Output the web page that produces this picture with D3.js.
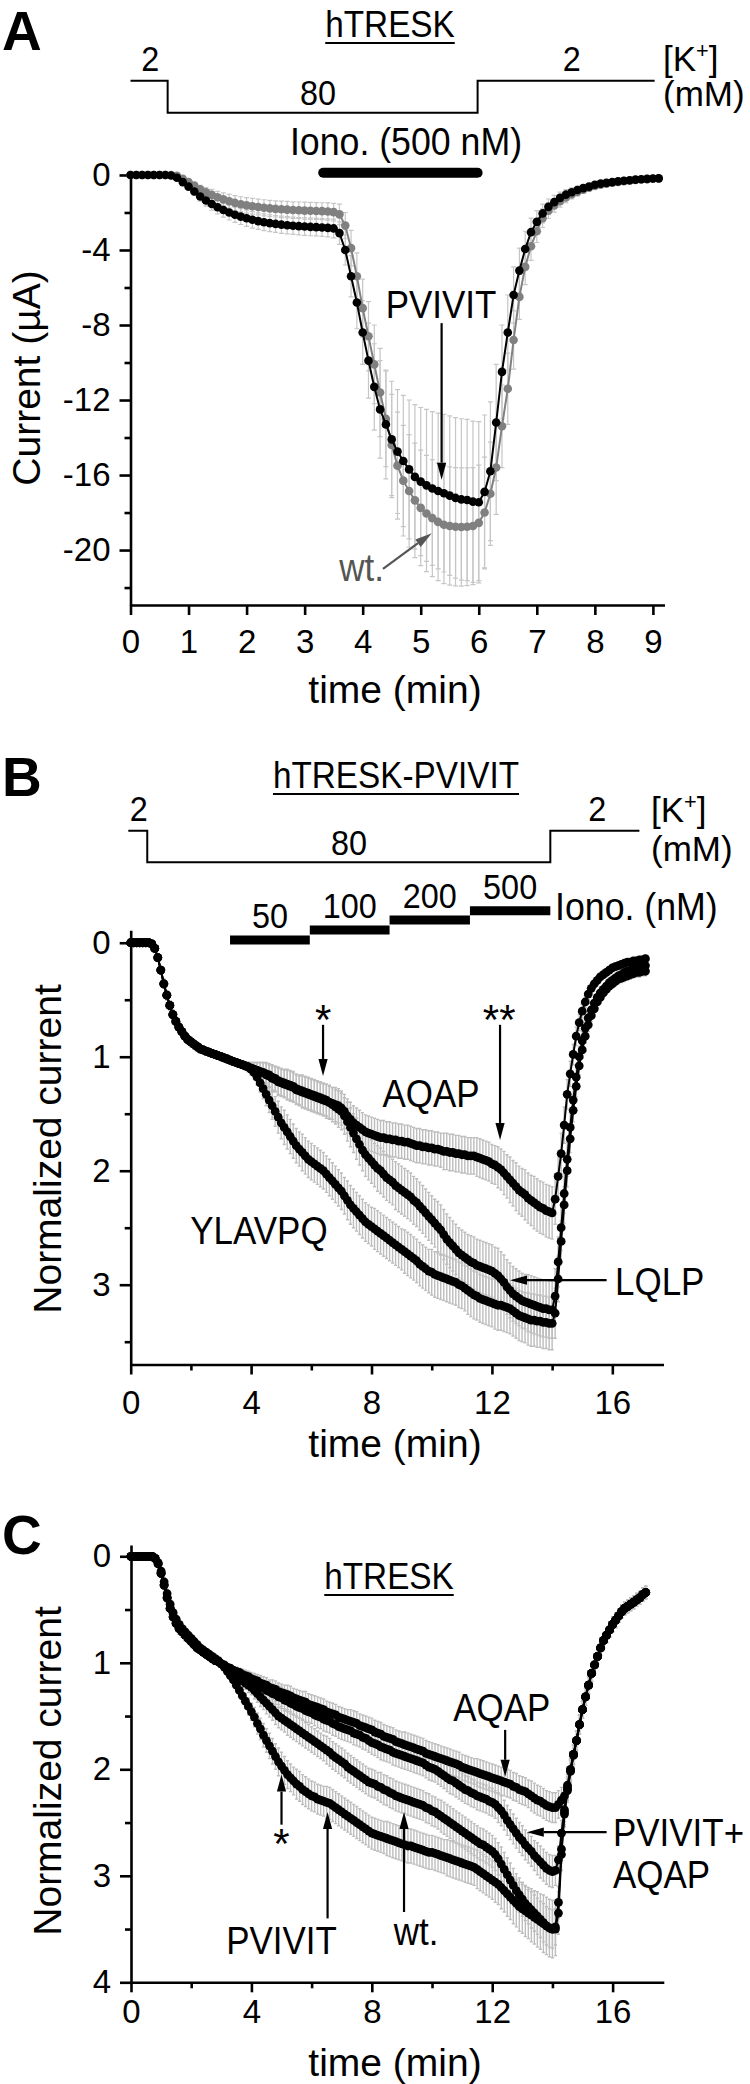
<!DOCTYPE html>
<html><head><meta charset="utf-8">
<script src="https://cdn.jsdelivr.net/npm/d3@7"></script>
<style>body{margin:0;background:#fff}svg{display:block}</style>
</head><body>
<svg id="fig" width="750" height="2084"></svg>
<script>
// ---------------- DATA ----------------
// Panel A: time grid 0..9.1 min, step 0.1 min
const aStep = 0.1, aCount = 92;
const aPVIVIT = [
0,0,0,0,0,0,0,-0.03,-0.15,-0.38,
-0.62,-0.88,-1.15,-1.36,-1.55,-1.72,-1.87,-2.0,-2.12,-2.22,
-2.31,-2.39,-2.46,-2.52,-2.57,-2.61,-2.65,-2.68,-2.71,-2.73,
-2.75,-2.77,-2.78,-2.8,-2.82,-2.85,-3.1,-4.0,-5.4,-6.8,
-8.4,-9.9,-11.3,-12.5,-13.3,-14.1,-14.75,-15.25,-15.7,-16.1,
-16.35,-16.55,-16.72,-16.85,-16.97,-17.1,-17.22,-17.3,-17.33,-17.42,
-17.45,-16.9,-15.8,-13.2,-10.5,-8.4,-6.4,-5.1,-3.95,-3.05,
-2.5,-2.05,-1.7,-1.45,-1.22,-1.05,-0.92,-0.8,-0.7,-0.62,
-0.52,-0.46,-0.42,-0.38,-0.34,-0.31,-0.28,-0.25,-0.23,-0.21,
-0.19,-0.18];
const aWT = [
0,0,0,0,0,0,0,0,-0.05,-0.2,
-0.38,-0.57,-0.76,-0.92,-1.06,-1.19,-1.3,-1.4,-1.49,-1.56,
-1.62,-1.67,-1.71,-1.75,-1.78,-1.81,-1.83,-1.85,-1.87,-1.88,
-1.9,-1.91,-1.92,-1.93,-1.95,-1.98,-2.1,-2.7,-3.9,-5.4,
-7.1,-8.6,-10.1,-11.6,-13.0,-14.4,-15.5,-16.3,-16.85,-17.35,
-17.75,-18.05,-18.3,-18.5,-18.65,-18.72,-18.76,-18.77,-18.76,-18.72,
-18.55,-18.0,-17.0,-15.6,-13.4,-11.4,-8.8,-6.5,-4.9,-3.8,
-3.0,-2.3,-1.9,-1.62,-1.4,-1.2,-1.04,-0.9,-0.78,-0.68,
-0.59,-0.52,-0.46,-0.41,-0.37,-0.33,-0.3,-0.27,-0.24,-0.22,
-0.2,-0.18];
const aPVIVITerr = [
0,0,0,0,0,0,0,0,0.03,0.08,
0.14,0.2,0.25,0.3,0.33,0.36,0.38,0.4,0.41,0.42,
0.43,0.44,0.44,0.45,0.45,0.45,0.46,0.46,0.46,0.46,
0.47,0.47,0.47,0.47,0.48,0.5,0.6,0.8,1.1,1.4,
1.7,2.0,2.3,2.6,2.9,3.1,3.3,3.5,3.7,3.85,
3.95,4.05,4.1,4.15,4.2,4.25,4.28,4.3,4.3,4.3,
4.3,4.1,3.7,3.1,2.5,2.0,1.5,1.2,0.95,0.75,
0.6,0.5,0.42,0.36,0.31,0.27,0.24,0.21,0.19,0.17,
0.15,0.14,0.13,0.12,0.11,0.1,0.1,0.09,0.09,0.08,
0.08,0.08];
const aWTerr = [
0,0,0,0,0,0,0,0,0.02,0.06,
0.11,0.16,0.21,0.25,0.29,0.32,0.35,0.37,0.39,0.4,
0.41,0.42,0.42,0.43,0.43,0.43,0.44,0.44,0.44,0.44,
0.45,0.45,0.45,0.45,0.46,0.47,0.55,0.7,0.95,1.25,
1.55,1.85,2.1,2.35,2.55,2.7,2.85,2.95,3.0,3.05,
3.08,3.1,3.12,3.13,3.14,3.15,3.15,3.15,3.14,3.12,
3.08,2.95,2.75,2.5,2.2,1.9,1.55,1.2,0.95,0.75,
0.6,0.5,0.42,0.36,0.31,0.27,0.24,0.21,0.19,0.17,
0.15,0.14,0.13,0.12,0.11,0.1,0.1,0.09,0.09,0.08,
0.08,0.08];
const aKSteps = [0, 0.64, 5.98, 9.03];       // [K+] 2 -> 80 -> 2 mM
const aIono = [3.32, 5.98];                  // ionomycin 500 nM

// Panels B and C: time grid 0..17.1 min, step 0.1 min
const bcStep = 0.1, bcCount = 172;
const bAQAP = [
0,0,0,0,0,0,0,0.01,0.05,0.13,
0.24,0.36,0.46,0.55,0.63,0.69,0.74,0.78,0.82,0.85,
0.87,0.89,0.91,0.93,0.94,0.95,0.96,0.97,0.98,0.99,
1.0,1.01,1.02,1.03,1.04,1.05,1.06,1.07,1.08,1.09,
1.10,1.11,1.12,1.13,1.14,1.15,1.16,1.18,1.19,1.21,
1.22,1.23,1.24,1.25,1.26,1.28,1.29,1.3,1.31,1.32,
1.33,1.34,1.35,1.36,1.37,1.38,1.4,1.41,1.42,1.43,
1.45,1.48,1.52,1.55,1.58,1.6,1.62,1.64,1.66,1.67,
1.68,1.69,1.7,1.71,1.71,1.72,1.72,1.73,1.73,1.74,
1.74,1.75,1.75,1.76,1.77,1.78,1.78,1.79,1.79,1.8,
1.8,1.81,1.81,1.82,1.83,1.83,1.84,1.84,1.85,1.85,
1.86,1.86,1.87,1.87,1.87,1.88,1.89,1.9,1.91,1.92,
1.94,1.95,1.97,1.99,2.02,2.05,2.08,2.11,2.14,2.17,
2.19,2.21,2.24,2.26,2.28,2.3,2.32,2.33,2.35,2.36,
2.37,2.25,2.05,1.85,1.6,1.33,1.15,0.98,0.82,0.7,
0.6,0.52,0.45,0.4,0.36,0.33,0.3,0.28,0.26,0.24,
0.22,0.21,0.2,0.19,0.18,0.17,0.17,0.16,0.16,0.15,
0.15,0.14];
const bLQLP = [
0,0,0,0,0,0,0,0.01,0.05,0.13,
0.24,0.36,0.46,0.55,0.63,0.69,0.74,0.78,0.82,0.85,
0.87,0.89,0.91,0.93,0.94,0.95,0.96,0.97,0.98,0.99,
1.0,1.01,1.02,1.03,1.04,1.05,1.06,1.07,1.08,1.09,
1.10,1.11,1.12,1.13,1.14,1.16,1.17,1.19,1.2,1.22,
1.23,1.24,1.25,1.26,1.27,1.29,1.3,1.31,1.32,1.33,
1.34,1.35,1.36,1.37,1.38,1.39,1.4,1.42,1.44,1.46,
1.48,1.52,1.57,1.62,1.67,1.72,1.77,1.82,1.86,1.89,
1.92,1.95,1.98,2.0,2.03,2.06,2.08,2.1,2.13,2.15,
2.17,2.19,2.21,2.23,2.26,2.28,2.31,2.34,2.37,2.4,
2.43,2.46,2.49,2.52,2.56,2.6,2.63,2.66,2.69,2.72,
2.74,2.76,2.78,2.8,2.81,2.83,2.84,2.85,2.86,2.87,
2.88,2.9,2.92,2.95,2.98,3.02,3.05,3.08,3.1,3.12,
3.14,3.15,3.16,3.17,3.18,3.19,3.2,3.21,3.21,3.22,
3.22,3.1,2.8,2.5,2.2,1.9,1.62,1.38,1.18,1.0,
0.86,0.75,0.66,0.59,0.53,0.48,0.44,0.41,0.38,0.35,
0.33,0.31,0.29,0.28,0.26,0.25,0.24,0.23,0.22,0.21,
0.2,0.2];
const bYLAVPQ = [
0,0,0,0,0,0,0,0.01,0.05,0.13,
0.24,0.36,0.46,0.55,0.63,0.69,0.74,0.78,0.82,0.85,
0.87,0.89,0.91,0.93,0.94,0.95,0.96,0.97,0.98,0.99,
1.0,1.01,1.02,1.03,1.04,1.05,1.06,1.07,1.08,1.09,
1.11,1.14,1.18,1.23,1.28,1.33,1.38,1.43,1.48,1.53,
1.58,1.62,1.66,1.7,1.74,1.78,1.81,1.84,1.87,1.9,
1.92,1.94,1.96,1.98,2.0,2.03,2.06,2.09,2.12,2.15,
2.18,2.22,2.26,2.3,2.33,2.36,2.39,2.42,2.45,2.47,
2.49,2.51,2.53,2.55,2.57,2.59,2.61,2.63,2.65,2.67,
2.69,2.71,2.73,2.75,2.77,2.79,2.82,2.84,2.86,2.88,
2.89,2.91,2.92,2.93,2.94,2.95,2.96,2.97,2.98,3.0,
3.01,3.03,3.05,3.07,3.09,3.1,3.12,3.13,3.14,3.15,
3.16,3.17,3.18,3.18,3.19,3.2,3.21,3.23,3.25,3.27,
3.28,3.29,3.3,3.31,3.31,3.32,3.32,3.33,3.33,3.34,
3.34,3.25,2.95,2.62,2.3,2.0,1.72,1.47,1.26,1.08,
0.94,0.82,0.72,0.64,0.58,0.52,0.48,0.44,0.41,0.38,
0.36,0.34,0.32,0.31,0.3,0.29,0.28,0.27,0.26,0.26,
0.25,0.25];
const bAQAPerr = [
0,0,0,0,0,0,0,0.01,0.02,0.03,
0.03,0.04,0.04,0.04,0.04,0.04,0.04,0.04,0.04,0.04,
0.04,0.04,0.04,0.04,0.03,0.03,0.03,0.03,0.03,0.03,
0.02,0.02,0.02,0.02,0.02,0.02,0.03,0.03,0.03,0.04,
0.05,0.06,0.07,0.08,0.09,0.1,0.1,0.11,0.11,0.12,
0.12,0.12,0.13,0.13,0.13,0.13,0.13,0.14,0.14,0.14,
0.14,0.14,0.14,0.14,0.14,0.14,0.14,0.14,0.15,0.15,
0.15,0.15,0.15,0.15,0.15,0.15,0.15,0.15,0.15,0.15,
0.15,0.15,0.15,0.15,0.15,0.15,0.15,0.15,0.15,0.15,
0.15,0.15,0.15,0.15,0.15,0.15,0.15,0.15,0.15,0.15,
0.15,0.15,0.15,0.15,0.16,0.16,0.16,0.16,0.16,0.16,
0.16,0.16,0.16,0.16,0.16,0.17,0.17,0.17,0.17,0.17,
0.17,0.17,0.18,0.18,0.19,0.19,0.2,0.2,0.21,0.21,
0.21,0.22,0.22,0.22,0.23,0.23,0.23,0.23,0.23,0.23,
0.23,0.22,0.2,0.18,0.16,0.13,0.11,0.09,0.08,0.07,
0.06,0.05,0.05,0.04,0.04,0.04,0.03,0.03,0.03,0.03,
0.03,0.03,0.03,0.03,0.03,0.03,0.03,0.03,0.03,0.03,
0.03,0.03];
const bLQLPerr = [
0,0,0,0,0,0,0,0.01,0.02,0.03,
0.03,0.04,0.04,0.04,0.04,0.04,0.04,0.04,0.04,0.04,
0.04,0.04,0.04,0.04,0.03,0.03,0.03,0.03,0.03,0.03,
0.02,0.02,0.02,0.02,0.02,0.02,0.03,0.03,0.03,0.04,
0.05,0.06,0.07,0.08,0.09,0.1,0.1,0.11,0.11,0.12,
0.12,0.12,0.13,0.13,0.13,0.13,0.13,0.14,0.14,0.14,
0.14,0.14,0.14,0.14,0.14,0.15,0.15,0.15,0.15,0.16,
0.16,0.16,0.17,0.17,0.17,0.18,0.18,0.18,0.19,0.19,
0.19,0.19,0.2,0.2,0.2,0.2,0.2,0.2,0.21,0.21,
0.21,0.21,0.21,0.21,0.21,0.21,0.21,0.21,0.21,0.21,
0.21,0.21,0.22,0.22,0.22,0.22,0.22,0.22,0.22,0.22,
0.22,0.22,0.22,0.23,0.23,0.23,0.23,0.23,0.23,0.23,
0.23,0.23,0.24,0.24,0.24,0.24,0.24,0.24,0.24,0.24,
0.24,0.24,0.25,0.25,0.25,0.25,0.25,0.25,0.25,0.25,
0.25,0.24,0.22,0.2,0.17,0.15,0.13,0.11,0.1,0.09,
0.08,0.07,0.06,0.06,0.05,0.05,0.05,0.04,0.04,0.04,
0.04,0.04,0.04,0.04,0.04,0.04,0.04,0.04,0.04,0.04,
0.04,0.04];
const bYLAVPQerr = [
0,0,0,0,0,0,0,0.01,0.02,0.03,
0.03,0.04,0.04,0.04,0.04,0.04,0.04,0.04,0.04,0.04,
0.04,0.04,0.04,0.04,0.03,0.03,0.03,0.03,0.03,0.03,
0.02,0.02,0.02,0.02,0.02,0.02,0.03,0.03,0.03,0.04,
0.05,0.06,0.07,0.08,0.09,0.1,0.11,0.12,0.13,0.14,
0.14,0.15,0.15,0.15,0.15,0.15,0.15,0.16,0.16,0.16,
0.16,0.16,0.16,0.16,0.16,0.16,0.16,0.16,0.16,0.16,
0.16,0.16,0.17,0.17,0.17,0.17,0.17,0.17,0.17,0.17,
0.17,0.18,0.18,0.18,0.18,0.18,0.18,0.18,0.18,0.18,
0.18,0.19,0.19,0.19,0.19,0.19,0.19,0.19,0.19,0.19,
0.2,0.2,0.2,0.2,0.2,0.2,0.2,0.2,0.2,0.2,
0.2,0.2,0.21,0.21,0.21,0.21,0.21,0.21,0.21,0.21,
0.21,0.22,0.22,0.22,0.22,0.22,0.22,0.22,0.22,0.22,
0.22,0.22,0.23,0.23,0.23,0.23,0.23,0.23,0.23,0.23,
0.23,0.22,0.2,0.18,0.16,0.14,0.12,0.1,0.09,0.08,
0.07,0.06,0.06,0.05,0.05,0.05,0.04,0.04,0.04,0.04,
0.04,0.04,0.04,0.04,0.04,0.04,0.04,0.04,0.04,0.04,
0.04,0.04];
const bKSteps = [-0.08, 0.55, 13.94, 16.9];
const bIonoStart = [3.3, 5.95, 8.6, 11.27];
const bIonoEnd = [5.95, 8.6, 11.27, 13.94];
const bIonoLabels = ["50", "100", "200", "500"];

// Panel C
const cAQAP = [
0,0,0,0,0,0,0,0,0.02,0.07,
0.16,0.27,0.39,0.49,0.57,0.63,0.68,0.71,0.74,0.77,
0.8,0.83,0.86,0.88,0.9,0.92,0.94,0.96,0.98,0.99,
1.01,1.02,1.04,1.05,1.07,1.08,1.09,1.11,1.12,1.13,
1.15,1.16,1.17,1.19,1.2,1.21,1.23,1.24,1.25,1.27,
1.28,1.29,1.3,1.31,1.33,1.34,1.35,1.36,1.37,1.39,
1.4,1.41,1.42,1.43,1.44,1.46,1.47,1.48,1.49,1.51,
1.52,1.53,1.54,1.55,1.56,1.57,1.59,1.6,1.61,1.62,
1.63,1.65,1.66,1.67,1.69,1.7,1.71,1.72,1.74,1.75,
1.76,1.77,1.78,1.79,1.8,1.81,1.82,1.83,1.85,1.86,
1.87,1.88,1.89,1.9,1.91,1.92,1.93,1.94,1.95,1.96,
1.98,1.99,2.0,2.01,2.02,2.03,2.04,2.05,2.06,2.07,
2.08,2.09,2.1,2.11,2.12,2.13,2.14,2.16,2.17,2.19,
2.2,2.21,2.23,2.25,2.27,2.29,2.3,2.32,2.34,2.35,
2.36,2.36,2.33,2.29,2.25,2.15,2.0,1.86,1.73,1.58,
1.44,1.32,1.21,1.1,1.02,0.94,0.86,0.79,0.74,0.69,
0.64,0.6,0.56,0.52,0.49,0.47,0.45,0.43,0.41,0.39,
0.36,0.34];
const cPVAQ = [
0,0,0,0,0,0,0,0,0.02,0.07,
0.16,0.27,0.39,0.49,0.57,0.63,0.68,0.71,0.74,0.77,
0.8,0.83,0.86,0.88,0.9,0.92,0.94,0.96,0.98,0.99,
1.01,1.03,1.05,1.07,1.09,1.1,1.12,1.13,1.15,1.16,
1.18,1.19,1.21,1.22,1.24,1.26,1.27,1.29,1.3,1.32,
1.33,1.35,1.36,1.38,1.39,1.41,1.42,1.43,1.45,1.46,
1.47,1.49,1.5,1.51,1.53,1.54,1.55,1.57,1.58,1.6,
1.61,1.62,1.63,1.64,1.66,1.67,1.68,1.7,1.71,1.73,
1.75,1.76,1.77,1.79,1.8,1.81,1.82,1.84,1.85,1.86,
1.87,1.88,1.89,1.9,1.91,1.92,1.93,1.94,1.96,1.98,
1.99,2.0,2.02,2.04,2.06,2.08,2.1,2.11,2.13,2.15,
2.17,2.19,2.2,2.22,2.23,2.25,2.26,2.27,2.28,2.3,
2.31,2.33,2.36,2.39,2.43,2.48,2.52,2.56,2.6,2.64,
2.67,2.71,2.74,2.77,2.81,2.84,2.87,2.9,2.93,2.95,
2.96,2.95,2.85,2.6,2.38,2.18,2.01,1.86,1.73,1.58,
1.44,1.32,1.21,1.1,1.02,0.94,0.86,0.79,0.74,0.69,
0.64,0.6,0.56,0.52,0.49,0.47,0.45,0.43,0.41,0.39,
0.36,0.34];
const cWT = [
0,0,0,0,0,0,0,0,0.02,0.07,
0.16,0.27,0.39,0.49,0.57,0.63,0.68,0.71,0.74,0.77,
0.8,0.83,0.86,0.88,0.9,0.92,0.94,0.96,0.98,0.99,
1.01,1.03,1.06,1.08,1.11,1.13,1.15,1.17,1.19,1.21,
1.23,1.26,1.29,1.32,1.35,1.38,1.41,1.44,1.47,1.5,
1.52,1.54,1.56,1.58,1.6,1.62,1.64,1.66,1.68,1.7,
1.72,1.74,1.76,1.78,1.8,1.82,1.84,1.87,1.89,1.91,
1.93,1.95,1.98,2.0,2.02,2.04,2.06,2.08,2.1,2.12,
2.13,2.14,2.16,2.17,2.19,2.2,2.22,2.23,2.25,2.26,
2.27,2.28,2.29,2.3,2.31,2.32,2.33,2.34,2.36,2.37,
2.39,2.4,2.42,2.44,2.46,2.48,2.5,2.52,2.54,2.56,
2.58,2.6,2.62,2.64,2.66,2.68,2.7,2.71,2.73,2.75,
2.77,2.8,2.84,2.89,2.94,2.99,3.04,3.09,3.14,3.18,
3.22,3.26,3.29,3.32,3.35,3.38,3.41,3.44,3.47,3.49,
3.5,3.48,3.25,2.75,2.4,2.18,2.01,1.86,1.73,1.58,
1.44,1.32,1.21,1.1,1.02,0.94,0.86,0.79,0.74,0.69,
0.64,0.6,0.56,0.52,0.49,0.47,0.45,0.43,0.41,0.39,
0.36,0.34];
const cPVIVIT = [
0,0,0,0,0,0,0,0,0.02,0.06,
0.14,0.24,0.35,0.45,0.53,0.59,0.64,0.68,0.71,0.74,
0.77,0.8,0.83,0.86,0.88,0.9,0.92,0.94,0.96,0.98,
1.01,1.04,1.08,1.12,1.16,1.21,1.26,1.31,1.36,1.41,
1.46,1.51,1.57,1.62,1.68,1.73,1.78,1.83,1.88,1.93,
1.97,2.01,2.05,2.08,2.11,2.14,2.16,2.19,2.21,2.23,
2.25,2.26,2.28,2.29,2.3,2.31,2.32,2.34,2.36,2.38,
2.4,2.42,2.44,2.46,2.48,2.5,2.52,2.54,2.56,2.58,
2.6,2.61,2.62,2.63,2.64,2.65,2.66,2.67,2.68,2.69,
2.7,2.71,2.72,2.72,2.73,2.74,2.75,2.76,2.77,2.78,
2.78,2.79,2.8,2.81,2.82,2.83,2.84,2.85,2.86,2.87,
2.88,2.89,2.9,2.91,2.92,2.94,2.96,2.98,3.0,3.02,
3.04,3.06,3.08,3.11,3.14,3.17,3.2,3.23,3.26,3.29,
3.31,3.33,3.35,3.37,3.39,3.41,3.43,3.45,3.47,3.49,
3.5,3.5,3.35,2.8,2.42,2.2,2.02,1.87,1.73,1.58,
1.44,1.32,1.21,1.1,1.02,0.94,0.86,0.79,0.74,0.69,
0.64,0.6,0.56,0.52,0.49,0.47,0.45,0.43,0.41,0.39,
0.36,0.34];
const cAQAPerr = [
0,0,0,0,0,0,0,0,0.01,0.02,
0.03,0.04,0.04,0.05,0.05,0.05,0.05,0.05,0.05,0.04,
0.04,0.04,0.04,0.03,0.03,0.03,0.02,0.02,0.01,0.01,
0.01,0.02,0.02,0.03,0.03,0.04,0.04,0.05,0.05,0.05,
0.06,0.06,0.06,0.07,0.07,0.07,0.07,0.08,0.08,0.08,
0.08,0.08,0.09,0.09,0.09,0.09,0.09,0.09,0.1,0.1,
0.1,0.1,0.1,0.1,0.1,0.1,0.1,0.1,0.1,0.1,
0.1,0.1,0.1,0.11,0.11,0.11,0.11,0.11,0.11,0.11,
0.11,0.11,0.11,0.11,0.11,0.11,0.11,0.11,0.11,0.11,
0.11,0.12,0.12,0.12,0.12,0.12,0.12,0.12,0.12,0.12,
0.12,0.12,0.12,0.12,0.12,0.12,0.12,0.12,0.12,0.12,
0.12,0.12,0.12,0.12,0.12,0.13,0.13,0.13,0.13,0.13,
0.13,0.13,0.13,0.13,0.13,0.13,0.13,0.13,0.13,0.13,
0.13,0.13,0.13,0.14,0.14,0.14,0.14,0.14,0.14,0.14,
0.14,0.14,0.13,0.12,0.11,0.1,0.1,0.09,0.09,0.09,
0.08,0.08,0.08,0.08,0.08,0.07,0.07,0.07,0.07,0.07,
0.07,0.07,0.06,0.06,0.06,0.06,0.06,0.06,0.06,0.06,
0.06,0.06];
const cPVAQerr = [
0,0,0,0,0,0,0,0,0.01,0.02,
0.03,0.04,0.04,0.05,0.05,0.05,0.05,0.05,0.05,0.04,
0.04,0.04,0.04,0.03,0.03,0.03,0.02,0.02,0.01,0.01,
0.01,0.02,0.02,0.03,0.03,0.04,0.04,0.05,0.05,0.06,
0.06,0.07,0.07,0.08,0.08,0.08,0.09,0.09,0.09,0.1,
0.1,0.1,0.1,0.1,0.1,0.1,0.1,0.1,0.1,0.1,
0.1,0.1,0.11,0.11,0.11,0.11,0.11,0.11,0.11,0.11,
0.11,0.11,0.11,0.11,0.11,0.11,0.11,0.11,0.11,0.11,
0.11,0.11,0.12,0.12,0.12,0.12,0.12,0.12,0.12,0.12,
0.12,0.12,0.12,0.12,0.12,0.12,0.12,0.12,0.12,0.12,
0.12,0.12,0.12,0.12,0.12,0.13,0.13,0.13,0.13,0.13,
0.13,0.13,0.13,0.13,0.13,0.13,0.13,0.13,0.13,0.13,
0.13,0.13,0.14,0.14,0.14,0.14,0.14,0.14,0.14,0.14,
0.14,0.14,0.14,0.14,0.14,0.15,0.15,0.15,0.15,0.15,
0.15,0.14,0.13,0.12,0.11,0.1,0.1,0.09,0.09,0.09,
0.08,0.08,0.08,0.08,0.08,0.07,0.07,0.07,0.07,0.07,
0.07,0.07,0.06,0.06,0.06,0.06,0.06,0.06,0.06,0.06,
0.06,0.06];
const cWTerr = [
0,0,0,0,0,0,0,0,0.01,0.02,
0.03,0.04,0.04,0.05,0.05,0.05,0.05,0.05,0.05,0.04,
0.04,0.04,0.04,0.03,0.03,0.03,0.02,0.02,0.01,0.01,
0.01,0.02,0.03,0.03,0.04,0.05,0.05,0.06,0.06,0.07,
0.07,0.08,0.08,0.09,0.09,0.1,0.1,0.1,0.11,0.11,
0.11,0.11,0.12,0.12,0.12,0.12,0.12,0.12,0.12,0.12,
0.12,0.12,0.12,0.12,0.12,0.13,0.13,0.13,0.13,0.13,
0.13,0.13,0.13,0.13,0.13,0.13,0.13,0.13,0.13,0.13,
0.13,0.13,0.13,0.14,0.14,0.14,0.14,0.14,0.14,0.14,
0.14,0.14,0.14,0.14,0.14,0.14,0.14,0.14,0.14,0.14,
0.14,0.14,0.14,0.15,0.15,0.15,0.15,0.15,0.15,0.15,
0.15,0.15,0.15,0.15,0.15,0.15,0.15,0.15,0.15,0.15,
0.15,0.15,0.15,0.16,0.16,0.16,0.16,0.16,0.16,0.16,
0.16,0.16,0.16,0.17,0.17,0.17,0.17,0.18,0.18,0.18,
0.18,0.17,0.15,0.13,0.12,0.11,0.1,0.09,0.09,0.09,
0.08,0.08,0.08,0.08,0.08,0.07,0.07,0.07,0.07,0.07,
0.07,0.07,0.06,0.06,0.06,0.06,0.06,0.06,0.06,0.06,
0.06,0.06];
const cPVIVITerr = [
0,0,0,0,0,0,0,0,0.01,0.02,
0.03,0.04,0.04,0.05,0.05,0.05,0.05,0.05,0.05,0.04,
0.04,0.04,0.04,0.03,0.03,0.03,0.02,0.02,0.01,0.01,
0.01,0.02,0.03,0.03,0.04,0.05,0.06,0.06,0.07,0.08,
0.08,0.09,0.1,0.1,0.11,0.11,0.12,0.12,0.12,0.13,
0.13,0.13,0.13,0.13,0.13,0.14,0.14,0.14,0.14,0.14,
0.14,0.14,0.14,0.14,0.14,0.15,0.15,0.15,0.15,0.15,
0.15,0.15,0.15,0.15,0.15,0.15,0.15,0.15,0.15,0.15,
0.15,0.15,0.15,0.15,0.15,0.16,0.16,0.16,0.16,0.16,
0.16,0.16,0.16,0.16,0.16,0.16,0.16,0.16,0.16,0.16,
0.16,0.16,0.16,0.16,0.16,0.17,0.17,0.17,0.17,0.17,
0.17,0.17,0.17,0.17,0.17,0.18,0.18,0.18,0.18,0.18,
0.18,0.19,0.19,0.2,0.2,0.21,0.21,0.22,0.22,0.23,
0.23,0.24,0.24,0.25,0.25,0.26,0.26,0.27,0.27,0.27,
0.27,0.25,0.2,0.15,0.12,0.11,0.1,0.09,0.09,0.09,
0.08,0.08,0.08,0.08,0.08,0.07,0.07,0.07,0.07,0.07,
0.07,0.07,0.06,0.06,0.06,0.06,0.06,0.06,0.06,0.06,
0.06,0.06];

// tick values
const aXTicks = [0,1,2,3,4,5,6,7,8,9];
const aYTicks = [0,-4,-8,-12,-16,-20];
const aYMinor = [-2,-6,-10,-14,-18,-22];
const bcXTicks = [0,4,8,12,16];
const bcXMinor = [2,6,10,14];
const bYTicks = [0,1,2,3];
const bYMinor = [0.5,1.5,2.5,3.5];
const cYTicks = [0,1,2,3,4];
const cYMinor = [0.5,1.5,2.5,3.5];

// ---------------- DRAWING ----------------
const FONT = "'Liberation Sans', Arial, Helvetica, sans-serif";
const svg = d3.select('#fig').attr('font-family', FONT);
const timesA = d3.range(aCount).map(i => +(i * aStep).toFixed(2));
const timesBC = d3.range(bcCount).map(i => +(i * bcStep).toFixed(2));

// text, optionally condensed horizontally by factor sx
function txt(x, y, s, size, anchor, fill, weight, sx) {
  sx = sx || 1;
  const g = svg.append('g').attr('transform', `translate(${x},${y}) scale(${sx},1)`);
  return g.append('text').attr('x', 0).attr('y', 0)
    .attr('font-size', size).attr('text-anchor', anchor || 'middle')
    .attr('fill', fill || '#000').attr('font-weight', weight || 'normal').text(s);
}
function underlined(cx, baseline, s, size, uy, sx) {
  const t = txt(cx, baseline, s, size, 'middle', '#000', 'normal', sx);
  const w = t.node().getComputedTextLength() * (sx || 1);
  svg.append('line').attr('x1', cx - w / 2).attr('x2', cx + w / 2)
    .attr('y1', uy).attr('y2', uy).attr('stroke', '#000').attr('stroke-width', 1.8);
}
function kLabel(x, y1, y2, size) {
  const t = svg.append('text').attr('x', x).attr('y', y1).attr('font-size', size);
  t.append('tspan').text('[K');
  t.append('tspan').attr('font-size', size * 0.62).attr('dy', -size * 0.38).text('+');
  t.append('tspan').attr('dy', size * 0.38).text(']');
  svg.append('text').attr('x', x).attr('y', y2).attr('font-size', size).text('(mM)');
}
function arrow(x1, y1, x2, y2, color, w) {
  color = color || '#000';
  const ang = Math.atan2(y2 - y1, x2 - x1), L = 17, W = 4.6;
  const bx = x2 - L * Math.cos(ang), by = y2 - L * Math.sin(ang);
  svg.append('line').attr('x1', x1).attr('y1', y1).attr('x2', bx).attr('y2', by)
    .attr('stroke', color).attr('stroke-width', w || 2.2);
  svg.append('path').attr('d',
    `M${x2},${y2}L${bx - W * Math.sin(ang)},${by + W * Math.cos(ang)}L${bx + W * Math.sin(ang)},${by - W * Math.cos(ang)}Z`)
    .attr('fill', color);
}
function axes(x, y, o) {
  const yBase = y.range()[1];
  const gx = svg.append('g').attr('transform', `translate(0,${yBase})`)
    .call(d3.axisBottom(x).tickValues(o.xt).tickSize(10).tickSizeOuter(0).tickPadding(o.xpad).tickFormat(d => String(d)));
  if (o.xm) svg.append('g').attr('transform', `translate(0,${yBase})`)
    .call(d3.axisBottom(x).tickValues(o.xm).tickSize(6).tickSizeOuter(0).tickFormat(''))
    .call(g => g.select('.domain').remove());
  const xLeft = x.range()[0];
  const gy = svg.append('g').attr('transform', `translate(${xLeft},0)`)
    .call(d3.axisLeft(y).tickValues(o.yt).tickSize(11).tickSizeOuter(0).tickPadding(9).tickFormat(d => String(d)));
  svg.append('g').attr('transform', `translate(${xLeft},0)`)
    .call(d3.axisLeft(y).tickValues(o.ym).tickSize(6).tickSizeOuter(0).tickFormat(''))
    .call(g => g.select('.domain').remove());
  [gx, gy].forEach(g => {
    g.attr('font-size', 33).attr('font-family', FONT);
    g.selectAll('text').attr('fill', '#000');
  });
  svg.selectAll('.domain, .tick line').attr('stroke', '#000').attr('stroke-width', 2.6);
}
function errBars(x, y, times, vals, errs, color, cap, sw) {
  const d = times.map((t, i) => [t, vals[i], errs[i]]).filter(p => p[1] != null && p[2] != null && p[2] > 0);
  svg.append('g').selectAll('path').data(d).join('path')
    .attr('d', p => {
      const xx = x(p[0]), y1 = y(p[1] - p[2]), y2 = y(p[1] + p[2]);
      return `M${xx},${y1}V${y2}M${xx - cap},${y1}H${xx + cap}M${xx - cap},${y2}H${xx + cap}`;
    })
    .attr('stroke', color).attr('stroke-width', sw).attr('fill', 'none');
}
function series(x, y, times, vals, color, r, lw) {
  const d = times.map((t, i) => [t, vals[i]]).filter(p => p[1] != null);
  const g = svg.append('g');
  g.append('path').datum(d).attr('d', d3.line().x(p => x(p[0])).y(p => y(p[1])))
    .attr('fill', 'none').attr('stroke', color).attr('stroke-width', lw);
  g.selectAll('circle').data(d).join('circle')
    .attr('cx', p => x(p[0])).attr('cy', p => y(p[1])).attr('r', r).attr('fill', color);
}
const ANN = 38, ANNSX = 0.92;   // annotation font size / horizontal condensation

// ======== PANEL A ========
const xA = d3.scaleLinear().domain([0, 9.2]).range([130.5, 664.5]);
const yA = d3.scaleLinear().domain([0.18, -22.93]).range([171.6, 605]);
txt(2, 50, 'A', 55, 'start', '#000', 'bold');
underlined(390, 37, 'hTRESK', 37, 43, 0.9);
{
  const hi = 80.7, lo = 112.7, s = aKSteps;
  svg.append('path').attr('d', d3.line()([[xA(s[0]), hi], [xA(s[1]), hi], [xA(s[1]), lo], [xA(s[2]), lo], [xA(s[2]), hi], [xA(s[3]), hi]]))
    .attr('fill', 'none').attr('stroke', '#000').attr('stroke-width', 2);
  txt(xA(0.34), 71, '2', 36, 'middle', '#000', 'normal', 0.9);
  txt(xA(3.23), 105, '80', 36, 'middle', '#000', 'normal', 0.9);
  txt(xA(7.6), 71, '2', 36, 'middle', '#000', 'normal', 0.9);
  kLabel(663, 71, 106, 35);
}
txt(406, 155, 'Iono. (500 nM)', 38, 'middle', '#000', 'normal', 0.94);
svg.append('line').attr('x1', xA(aIono[0])).attr('x2', xA(aIono[1])).attr('y1', 172.7).attr('y2', 172.7)
  .attr('stroke', '#000').attr('stroke-width', 10).attr('stroke-linecap', 'round');
axes(xA, yA, { xt: aXTicks, yt: aYTicks, ym: aYMinor, xpad: 15 });
errBars(xA, yA, timesA, aWT, aWTerr, '#c6c6c6', 2.5, 1.2);
errBars(xA, yA, timesA, aPVIVIT, aPVIVITerr, '#c6c6c6', 2.5, 1.2);
series(xA, yA, timesA, aWT, '#808080', 4.3, 2);
series(xA, yA, timesA, aPVIVIT, '#000', 4.3, 2);
txt(395, 703, 'time (min)', 39);
svg.append('text').attr('transform', 'translate(40,378) rotate(-90)').attr('text-anchor', 'middle')
  .attr('font-size', 39).text('Current (\u00B5A)');
txt(xA(5.35), yA(-7.62), 'PVIVIT', ANN, 'middle', '#000', 'normal', ANNSX);
arrow(xA(5.36), yA(-7.9), xA(5.36), yA(-16.25));
txt(xA(3.98), yA(-21.67), 'wt.', ANN, 'middle', '#555', 'normal', ANNSX);
arrow(xA(4.35), yA(-21.0), xA(5.19), yA(-19.1), '#555', 2.2);

// ======== PANEL B ========
const xB = d3.scaleLinear().domain([0, 17.7]).range([130.7, 663.5]);
const yB = d3.scaleLinear().domain([-0.11, 3.70]).range([930.2, 1364.5]);
txt(2, 796, 'B', 55, 'start', '#000', 'bold');
underlined(396, 788, 'hTRESK-PVIVIT', 37, 794, 0.9);
{
  const hi = 830.7, lo = 862.3, s = bKSteps;
  svg.append('path').attr('d', d3.line()([[xB(s[0]), hi], [xB(s[1]), hi], [xB(s[1]), lo], [xB(s[2]), lo], [xB(s[2]), hi], [xB(s[3]), hi]]))
    .attr('fill', 'none').attr('stroke', '#000').attr('stroke-width', 2);
  txt(xB(0.27), 821, '2', 36, 'middle', '#000', 'normal', 0.9);
  txt(xB(7.25), 855, '80', 36, 'middle', '#000', 'normal', 0.9);
  txt(xB(15.5), 821, '2', 36, 'middle', '#000', 'normal', 0.9);
  kLabel(651, 822, 861, 35);
}
const barY = [940, 930, 920, 910.7];
bIonoStart.forEach((s, i) => {
  svg.append('line').attr('x1', xB(s)).attr('x2', xB(bIonoEnd[i])).attr('y1', barY[i]).attr('y2', barY[i])
    .attr('stroke', '#000').attr('stroke-width', 9);
  txt(xB((s + bIonoEnd[i]) / 2), barY[i] - 12, bIonoLabels[i], 36, 'middle', '#000', 'normal', 0.9);
});
txt(555, 920, 'Iono. (nM)', 38, 'start', '#000', 'normal', 0.94);
axes(xB, yB, { xt: bcXTicks, xm: bcXMinor, yt: bYTicks, ym: bYMinor, xpad: 16 });
errBars(xB, yB, timesBC, bAQAP, bAQAPerr, '#bdbdbd', 1.6, 1.4);
errBars(xB, yB, timesBC, bLQLP, bLQLPerr, '#bdbdbd', 1.6, 1.4);
errBars(xB, yB, timesBC, bYLAVPQ, bYLAVPQerr, '#bdbdbd', 1.6, 1.4);
series(xB, yB, timesBC, bYLAVPQ, '#000', 4.4, 2);
series(xB, yB, timesBC, bLQLP, '#000', 4.4, 2);
series(xB, yB, timesBC, bAQAP, '#000', 4.4, 2);
txt(395, 1457, 'time (min)', 39);
svg.append('text').attr('transform', 'translate(61,1149) rotate(-90)').attr('text-anchor', 'middle')
  .attr('font-size', 39).text('Normalized current');
txt(xB(6.39), yB(0.8), '*', 42);
arrow(xB(6.39), yB(0.72), xB(6.39), yB(1.17));
txt(xB(12.24), yB(0.8), '**', 42);
arrow(xB(12.27), yB(0.72), xB(12.27), yB(1.73));
txt(xB(9.98), yB(1.44), 'AQAP', ANN, 'middle', '#000', 'normal', ANNSX);
txt(xB(16.09), yB(3.09), 'LQLP', ANN, 'start', '#000', 'normal', ANNSX);
arrow(xB(15.81), yB(2.96), xB(12.6), yB(2.96));
txt(xB(4.26), yB(2.64), 'YLAVPQ', ANN, 'middle', '#000', 'normal', ANNSX);

// ======== PANEL C ========
const xC = d3.scaleLinear().domain([0, 17.7]).range([131, 663.8]);
const yC = d3.scaleLinear().domain([-0.106, 4]).range([1545, 1982.3]);
txt(2, 1554, 'C', 55, 'start', '#000', 'bold');
underlined(389, 1589, 'hTRESK', 37, 1595, 0.9);
axes(xC, yC, { xt: bcXTicks, xm: bcXMinor, yt: cYTicks, ym: cYMinor, xpad: 7 });
errBars(xC, yC, timesBC, cAQAP, cAQAPerr, '#bdbdbd', 1.6, 1.4);
errBars(xC, yC, timesBC, cPVAQ, cPVAQerr, '#bdbdbd', 1.6, 1.4);
errBars(xC, yC, timesBC, cWT, cWTerr, '#bdbdbd', 1.6, 1.4);
errBars(xC, yC, timesBC, cPVIVIT, cPVIVITerr, '#bdbdbd', 1.6, 1.4);
series(xC, yC, timesBC, cPVIVIT, '#000', 4.4, 2);
series(xC, yC, timesBC, cWT, '#000', 4.4, 2);
series(xC, yC, timesBC, cPVAQ, '#000', 4.4, 2);
series(xC, yC, timesBC, cAQAP, '#000', 4.4, 2);
txt(395, 2076, 'time (min)', 39);
svg.append('text').attr('transform', 'translate(61,1771) rotate(-90)').attr('text-anchor', 'middle')
  .attr('font-size', 39).text('Normalized current');
txt(xC(12.32), yC(1.55), 'AQAP', ANN, 'middle', '#000', 'normal', ANNSX);
arrow(xC(12.43), yC(1.63), xC(12.43), yC(2.07));
txt(xC(16.01), yC(2.72), 'PVIVIT+', ANN, 'start', '#000', 'normal', ANNSX);
txt(xC(16.01), yC(3.11), 'AQAP', ANN, 'start', '#000', 'normal', ANNSX);
arrow(xC(15.8), yC(2.59), xC(13.15), yC(2.59));
txt(xC(9.47), yC(3.65), 'wt.', ANN, 'middle', '#000', 'normal', ANNSX);
arrow(xC(9.07), yC(3.34), xC(9.07), yC(2.4));
txt(xC(5.0), yC(3.73), 'PVIVIT', ANN, 'middle', '#000', 'normal', ANNSX);
arrow(xC(6.53), yC(3.4), xC(6.53), yC(2.4));
txt(xC(5.0), yC(2.83), '*', 42);
arrow(xC(5.0), yC(2.52), xC(5.0), yC(2.05));
</script>
</body></html>
